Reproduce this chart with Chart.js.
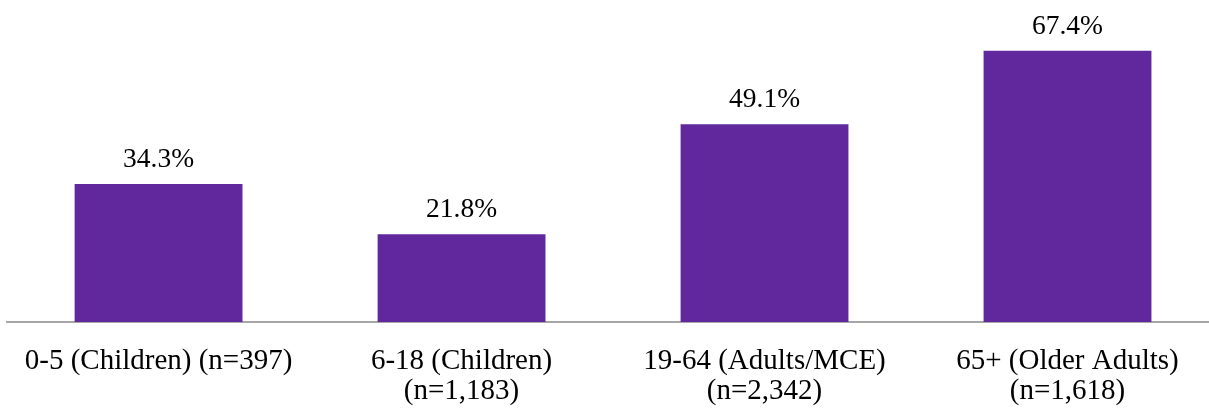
<!DOCTYPE html>
<html>
<head>
<meta charset="utf-8">
<script src="https://cdn.jsdelivr.net/npm/chart.js@4/dist/chart.umd.min.js"></script>
<style>
html,body{margin:0;padding:0;background:#fff;overflow:hidden;}
#wrap{width:1222px;height:409px;position:relative;}
</style>
</head>
<body>
<div id="wrap"><canvas id="c" width="1222" height="409"></canvas></div>
<script>
const categories = [
  ['0-5 (Children) (n=397)'],
  ['6-18 (Children)', '(n=1,183)'],
  ['19-64 (Adults/MCE)', '(n=2,342)'],
  ['65+ (Older Adults)', '(n=1,618)']
];
const values = [34.3, 21.8, 49.1, 67.4];
const barColor = '#61289E';
const fontFamily = "'Liberation Serif', 'Times New Roman', serif";

const dataLabels = {
  id: 'dataLabels',
  afterDatasetsDraw(chart) {
    const ctx = chart.ctx;
    const meta = chart.getDatasetMeta(0);
    ctx.save();
    ctx.font = '27.5px ' + fontFamily;
    ctx.fillStyle = '#000';
    ctx.textAlign = 'center';
    ctx.textBaseline = 'alphabetic';
    meta.data.forEach((bar, i) => {
      ctx.fillText(values[i].toFixed(1) + '%', bar.x, bar.y - 17);
    });
    ctx.restore();
  }
};

new Chart(document.getElementById('c'), {
  type: 'bar',
  data: {
    labels: categories,
    datasets: [{
      data: values,
      backgroundColor: barColor,
      borderWidth: 0,
      barPercentage: 0.554,
      categoryPercentage: 1.0
    }]
  },
  options: {
    responsive: false,
    animation: false,
    layout: { padding: { left: 6, right: 3, top: 0, bottom: 0 } },
    plugins: { legend: { display: false }, tooltip: { enabled: false } },
    scales: {
      x: {
        grid: { display: false, drawTicks: false },
        border: { display: true, color: '#A6A6A6', width: 2 },
        ticks: {
          color: '#000',
          font: { family: fontFamily, size: 29, lineHeight: 1.034 },
          padding: 24,
          maxRotation: 0,
          autoSkip: false
        },
        afterFit(scale) { scale.height = 87; }
      },
      y: {
        display: false,
        min: 0,
        max: 80
      }
    }
  },
  plugins: [dataLabels]
});
</script>
</body>
</html>
